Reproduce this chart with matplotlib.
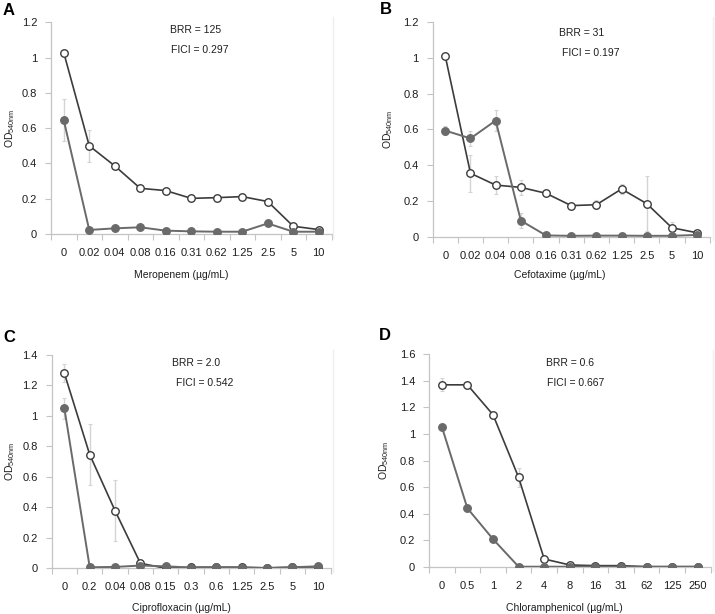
import matplotlib
matplotlib.use("Agg")
import matplotlib.pyplot as plt
from matplotlib.lines import Line2D

plt.rcParams['font.family'] = ['Liberation Sans', 'DejaVu Sans']

# ---------------- data ----------------
labels_A = ["0", "0.02", "0.04", "0.08", "0.16", "0.31", "0.62", "1.25", "2.5", "5", "10"]
open_A = [1.028, 0.50, 0.386, 0.259, 0.246, 0.202, 0.206, 0.212, 0.184, 0.044, 0.025]
open_A_err = [0.0, 0.09, 0.0, 0.0, 0.0, 0.0, 0.0, 0.0, 0.0, 0.0, 0.0]
fill_A = [0.645, 0.023, 0.032, 0.038, 0.019, 0.015, 0.013, 0.013, 0.06, 0.013, 0.013]
fill_A_err = [0.12, 0.0, 0.0, 0.0, 0.0, 0.0, 0.0, 0.0, 0.0, 0.0, 0.0]

labels_B = ["0", "0.02", "0.04", "0.08", "0.16", "0.31", "0.62", "1.25", "2.5", "5", "10"]
open_B = [1.01, 0.355, 0.289, 0.276, 0.243, 0.174, 0.179, 0.267, 0.185, 0.05, 0.022]
open_B_err = [0.0, 0.105, 0.05, 0.04, 0.0, 0.0, 0.025, 0.03, 0.155, 0.03, 0.0]
fill_B = [0.594, 0.55, 0.65, 0.09, 0.007, 0.005, 0.006, 0.006, 0.005, 0.005, 0.01]
fill_B_err = [0.025, 0.04, 0.06, 0.04, 0.0, 0.0, 0.0, 0.0, 0.0, 0.0, 0.0]

labels_C = ["0", "0.2", "0.04", "0.08", "0.15", "0.3", "0.6", "1.25", "2.5", "5", "10"]
open_C = [1.28, 0.746, 0.378, 0.033, 0.0, 0.007, 0.007, 0.007, 0.002, 0.007, 0.01]
open_C_err = [0.06, 0.2, 0.2, 0.0, 0.0, 0.0, 0.0, 0.0, 0.0, 0.0, 0.0]
fill_C = [1.05, 0.007, 0.009, 0.018, 0.013, 0.005, 0.007, 0.005, 0.003, 0.007, 0.013]
fill_C_err = [0.07, 0.0, 0.0, 0.0, 0.0, 0.0, 0.0, 0.0, 0.0, 0.0, 0.0]

labels_D = ["0", "0.5", "1", "2", "4", "8", "16", "31", "62", "125", "250"]
open_D = [1.37, 1.37, 1.145, 0.673, 0.058, 0.013, 0.008, 0.008, 0.0, 0.0, 0.0]
open_D_err = [0.05, 0.0, 0.0, 0.07, 0.0, 0.0, 0.0, 0.0, 0.0, 0.0, 0.0]
fill_D = [1.055, 0.44, 0.208, 0.0, 0.0, 0.0, 0.0, 0.0, 0.0, 0.0, 0.0]
fill_D_err = [0.0, 0.02, 0.0, 0.0, 0.0, 0.0, 0.0, 0.0, 0.0, 0.0, 0.0]

xlabels = ["Meropenem (\u00b5g/mL)", "Cefotaxime (\u00b5g/mL)",
           "Ciprofloxacin (\u00b5g/mL)", "Chloramphenicol (\u00b5g/mL)"]
brr = ["BRR = 125", "BRR = 31", "BRR = 2.0", "BRR = 0.6"]
fici = ["FICI = 0.297", "FICI = 0.197", "FICI = 0.542", "FICI = 0.667"]
ymax = [1.2, 1.2, 1.4, 1.6]
yticks = [[0, 0.2, 0.4, 0.6, 0.8, 1, 1.2],
          [0, 0.2, 0.4, 0.6, 0.8, 1, 1.2],
          [0, 0.2, 0.4, 0.6, 0.8, 1, 1.2, 1.4],
          [0, 0.2, 0.4, 0.6, 0.8, 1, 1.2, 1.4, 1.6]]
ytick_labels = [["0", "0.2", "0.4", "0.6", "0.8", "1", "1.2"],
                ["0", "0.2", "0.4", "0.6", "0.8", "1", "1.2"],
                ["0", "0.2", "0.4", "0.6", "0.8", "1", "1.2", "1.4"],
                ["0", "0.2", "0.4", "0.6", "0.8", "1", "1.2", "1.4", "1.6"]]
panel_letters = ["A", "B", "C", "D"]

panels = [
    (labels_A, open_A, open_A_err, fill_A, fill_A_err),
    (labels_B, open_B, open_B_err, fill_B, fill_B_err),
    (labels_C, open_C, open_C_err, fill_C, fill_C_err),
    (labels_D, open_D, open_D_err, fill_D, fill_D_err),
]

# ---------------- layout ----------------
W, H = 715, 614
fig = plt.figure(figsize=(W / 100, H / 100), dpi=100)

# axes boxes in pixels: left, top, right, bottom
boxes = [(51, 22.3, 331.5, 234), (432.7, 22.3, 709.7, 236.7),
         (51.7, 355, 330.5, 568.3), (429, 354.3, 710.6, 566.7)]
ylab_x = [-0.146, -0.161, -0.149, -0.159]
xlab_pos = [(0.463, -0.194), (0.458, -0.179), (0.467, -0.1875), (0.479, -0.196)]
brr_pos = [(0.514, 0.964), (0.538, 0.951), (0.518, 0.961), (0.50, 0.958)]
fici_pos = [(0.53, 0.869), (0.57, 0.855), (0.55, 0.867), (0.52, 0.863)]
letter_pos = [(3, 3), (380, 2), (3, 330), (379, 328)]
faint_lines = [(333, 17, 238), (713, 17, 240), (333, 350, 572), (713, 350, 571)]

axis_col = "#c4c4c4"
open_line = "#3c3c3c"
fill_col = "#6a6a6a"
err_col = "#d4d4d4"
txt_col = "#1e1e1e"

for i, (labs, oy, oe, fy, fe) in enumerate(panels):
    l, t, r, b = boxes[i]
    ax = fig.add_axes([l / W, 1 - b / H, (r - l) / W, (b - t) / H])
    x = list(range(len(labs)))

    ax.errorbar(x, oy, yerr=oe, fmt="none", ecolor=err_col, elinewidth=1,
                capsize=1.5, capthick=0.8, zorder=1)
    ax.errorbar(x, fy, yerr=fe, fmt="none", ecolor=err_col, elinewidth=1,
                capsize=1.5, capthick=0.8, zorder=1)
    ax.plot(x, oy, "-o", color=open_line, lw=1.2, markersize=5.4,
            markerfacecolor="white", markeredgecolor=open_line,
            markeredgewidth=1.0, zorder=3)
    ax.plot(x, fy, "-o", color=fill_col, lw=1.4, markersize=5.4,
            markerfacecolor=fill_col, markeredgecolor=fill_col, zorder=4)

    ax.set_xlim(-0.5, len(labs) - 0.5)
    ax.set_ylim(0, ymax[i])
    ax.set_xticks(x)
    ax.set_xticklabels(labs, fontsize=8, color=txt_col)
    ax.set_xticks([k - 0.5 for k in range(len(labs) + 1)], minor=True)
    ax.tick_params(axis="x", which="major", length=0, pad=10)
    ax.tick_params(axis="x", which="minor", length=4, width=0.8,
                   color=axis_col, direction="out")
    ax.set_yticks(yticks[i])
    ax.set_yticklabels(ytick_labels[i], fontsize=8, color=txt_col)
    ax.tick_params(axis="y", length=4, width=0.8, color=axis_col,
                   direction="out", pad=6)

    for s in ["top", "right"]:
        ax.spines[s].set_visible(False)
    for s in ["left", "bottom"]:
        ax.spines[s].set_color(axis_col)
        ax.spines[s].set_linewidth(0.9)

    ax.set_xlabel(xlabels[i], fontsize=7.5, color=txt_col)
    ax.xaxis.set_label_coords(*xlab_pos[i])
    ax.xaxis.label.set_verticalalignment("center")
    ax.set_ylabel(r"OD$_{\mathregular{540nm}}$", fontsize=7.5, color=txt_col)
    ax.yaxis.set_label_coords(ylab_x[i], 0.5)
    ax.yaxis.label.set_verticalalignment("center")

    ax.text(*brr_pos[i], brr[i], transform=ax.transAxes, fontsize=7.5,
            ha="center", va="center", color=txt_col)
    ax.text(*fici_pos[i], fici[i], transform=ax.transAxes, fontsize=7.5,
            ha="center", va="center", color=txt_col)

    lx, ly = letter_pos[i]
    fig.text(lx / W, 1 - ly / H, panel_letters[i], fontsize=12,
             fontweight="bold", ha="left", va="top", color="black")

    fx, fy0, fy1 = faint_lines[i]
    fig.add_artist(Line2D([fx / W, fx / W], [1 - fy0 / H, 1 - fy1 / H],
                          color="#efefef", lw=1))

fig.savefig("out.png", dpi=100, facecolor="white")
